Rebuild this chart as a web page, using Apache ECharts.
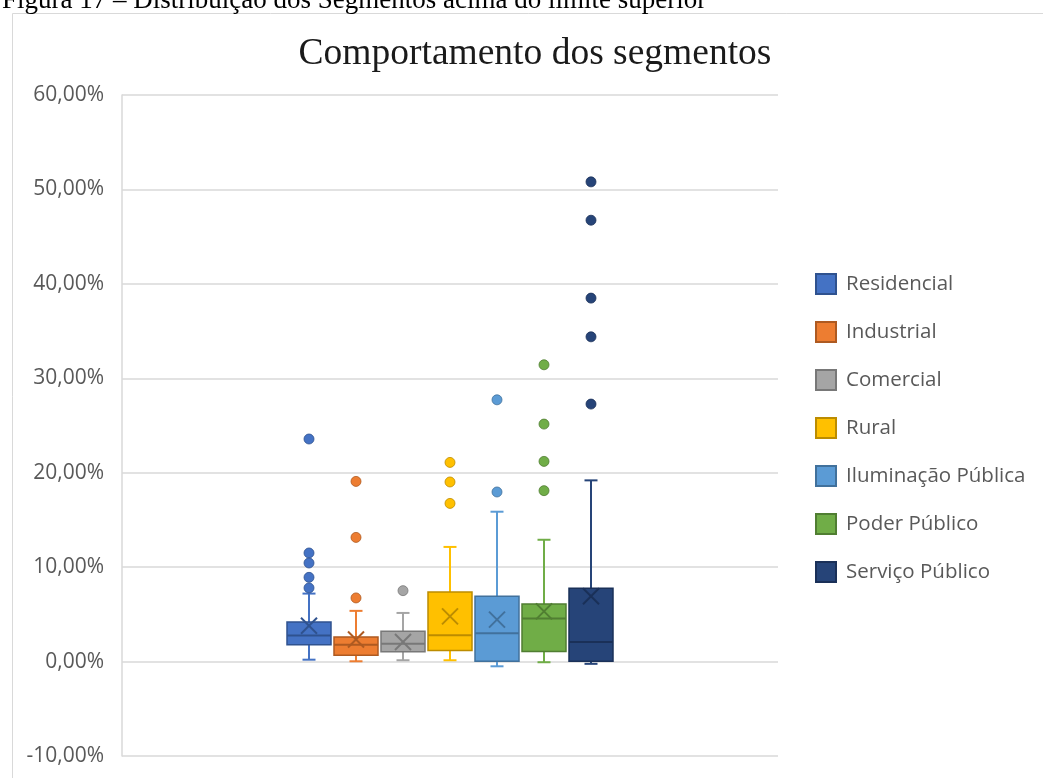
<!DOCTYPE html>
<html>
<head>
<meta charset="utf-8">
<script src="https://cdn.jsdelivr.net/npm/echarts@6/dist/echarts.min.js"></script>
<style>
  html, body { margin: 0; padding: 0; background: #ffffff; }
  #chart { width: 1043px; height: 778px; }
</style>
</head>
<body>
<div id="chart"></div>
<script>
// Segments and their box-and-whisker statistics (values in %)
const segments = ['Residencial', 'Industrial', 'Comercial', 'Rural', 'Iluminação Pública', 'Poder Público', 'Serviço Público'];
const boxMin    = [0.20, 0.03, 0.14, 0.14, -0.50, -0.07, -0.24];
const boxQ1     = [1.77, 0.67, 1.03, 1.16, 0.03, 1.06, 0.03];
const boxMedian = [2.75, 1.77, 1.90, 2.78, 2.99, 4.55, 2.08];
const boxQ3     = [4.20, 2.61, 3.21, 7.38, 6.91, 6.10, 7.76];
const boxMax    = [7.20, 5.37, 5.15, 12.14, 15.87, 12.90, 19.19];
const boxMean   = [3.80, 2.33, 2.08, 4.79, 4.44, 5.32, 6.91];
const outliers = [
  [23.57, 11.50, 10.44, 8.92, 7.80],
  [19.08, 13.15, 6.74],
  [7.51],
  [21.09, 19.02, 16.75],
  [27.72, 17.96],
  [31.43, 25.15, 21.20, 18.10],
  [50.80, 46.74, 38.49, 34.39, 27.27]
];
const yMin = -10, yMax = 60, yStep = 10;

// Palette: fill colour and darker outline colour per segment
const fillColors = ['#4472C4', '#ED7D31', '#A5A5A5', '#FFC000', '#5B9BD5', '#70AD47', '#264478'];
const darkColors = ['#2F528F', '#AE5A21', '#787878', '#BC8C00', '#41719C', '#507E32', '#1A3058'];

// Box geometry (pixels)
const SLOT = 47, BOX_W = 44, CAP_W = 13, MEAN_SIZE = 16, DOT_R = 5;

function makeRenderItem(i) {
  return function (params, api) {
    const cat = api.value(0);
    const cx = api.coord([cat, 0])[0] + (i - (segments.length - 1) / 2) * SLOT;
    const py = v => api.coord([cat, v])[1];
    const pMin = py(api.value(1)), pQ1 = py(api.value(2)), pMed = py(api.value(3));
    const pQ3 = py(api.value(4)), pMax = py(api.value(5)), pMean = py(api.value(6));
    const hw = BOX_W / 2, cw = CAP_W / 2, ms = MEAN_SIZE / 2;
    const fill = fillColors[i], dark = darkColors[i];
    const whisker = { stroke: fill, lineWidth: 2 };
    const children = [
      { type: 'line', shape: { x1: cx, y1: pQ3, x2: cx, y2: pMax }, style: whisker },
      { type: 'line', shape: { x1: cx - cw, y1: pMax, x2: cx + cw, y2: pMax }, style: whisker },
      { type: 'line', shape: { x1: cx, y1: pQ1, x2: cx, y2: pMin }, style: whisker },
      { type: 'line', shape: { x1: cx - cw, y1: pMin, x2: cx + cw, y2: pMin }, style: whisker },
      { type: 'rect', shape: { x: cx - hw, y: pQ3, width: BOX_W, height: pQ1 - pQ3 },
        style: { fill: fill, stroke: dark, lineWidth: 1.5 } },
      { type: 'line', shape: { x1: cx - hw, y1: pMed, x2: cx + hw, y2: pMed },
        style: { stroke: dark, lineWidth: 2 } },
      { type: 'line', shape: { x1: cx - ms, y1: pMean - ms, x2: cx + ms, y2: pMean + ms },
        style: { stroke: dark, lineWidth: 2 } },
      { type: 'line', shape: { x1: cx - ms, y1: pMean + ms, x2: cx + ms, y2: pMean - ms },
        style: { stroke: dark, lineWidth: 2 } }
    ];
    outliers[i].forEach(function (v) {
      children.push({ type: 'circle', shape: { cx: cx, cy: py(v), r: DOT_R },
        style: { fill: fill, stroke: dark, lineWidth: 0.8 } });
    });
    return { type: 'group', children: children };
  };
}

const series = segments.map(function (name, i) {
  return {
    name: name,
    type: 'custom',
    renderItem: makeRenderItem(i),
    encode: { x: 0, y: [1, 2, 3, 4, 5, 6] },
    itemStyle: { color: fillColors[i], borderColor: darkColors[i], borderWidth: 1 },
    data: [[0, boxMin[i], boxQ1[i], boxMedian[i], boxQ3[i], boxMax[i], boxMean[i]]],
    clip: false
  };
});

const chart = echarts.init(document.getElementById('chart'), null, { renderer: 'canvas' });
chart.setOption({
  animation: false,
  backgroundColor: '#ffffff',
  title: {
    text: 'Comportamento dos segmentos',
    left: 530,
    textAlign: 'center',
    top: 30,
    textStyle: { fontFamily: 'Liberation Serif', fontSize: 37.5, fontWeight: 'normal', color: '#1a1a1a' }
  },
  graphic: [
    { type: 'rect', z: -10, silent: true,
      shape: { x: 12.5, y: 13.5, width: 1100, height: 900 },
      style: { fill: 'none', stroke: '#d9d9d9', lineWidth: 1 } },
    { type: 'text', silent: true, x: 2, y: 1,
      style: { text: 'Figura 17 – Distribuição dos Segmentos acima do limite superior',
        font: '27px "Liberation Serif"', fill: '#000000', verticalAlign: 'middle', align: 'left' } }
  ],
  legend: {
    data: segments,
    orient: 'vertical',
    left: 810,
    top: 268,
    icon: 'rect',
    itemWidth: 20,
    itemHeight: 20,
    itemGap: 26,
    textStyle: { fontFamily: 'Open Sans', fontSize: 20.5, color: '#595959', padding: [0, 0, 0, 5] }
  },
  grid: { left: 122, right: 265, top: 95, bottom: 22, containLabel: false },
  xAxis: {
    type: 'category',
    data: [''],
    axisLine: { show: false },
    axisTick: { show: false },
    axisLabel: { show: false },
    splitLine: { show: false }
  },
  yAxis: {
    type: 'value',
    min: yMin,
    max: yMax,
    interval: yStep,
    axisLine: { show: true, lineStyle: { color: '#d9d9d9', width: 1.5 } },
    axisTick: { show: false },
    splitLine: { show: true, lineStyle: { color: '#d9d9d9', width: 1.5 } },
    axisLabel: {
      margin: 18,
      fontFamily: 'Open Sans',
      fontSize: 21,
      color: '#595959',
      formatter: function (v) { return v.toFixed(2).replace('.', ',') + '%'; }
    }
  },
  series: series
});
</script>
</body>
</html>
